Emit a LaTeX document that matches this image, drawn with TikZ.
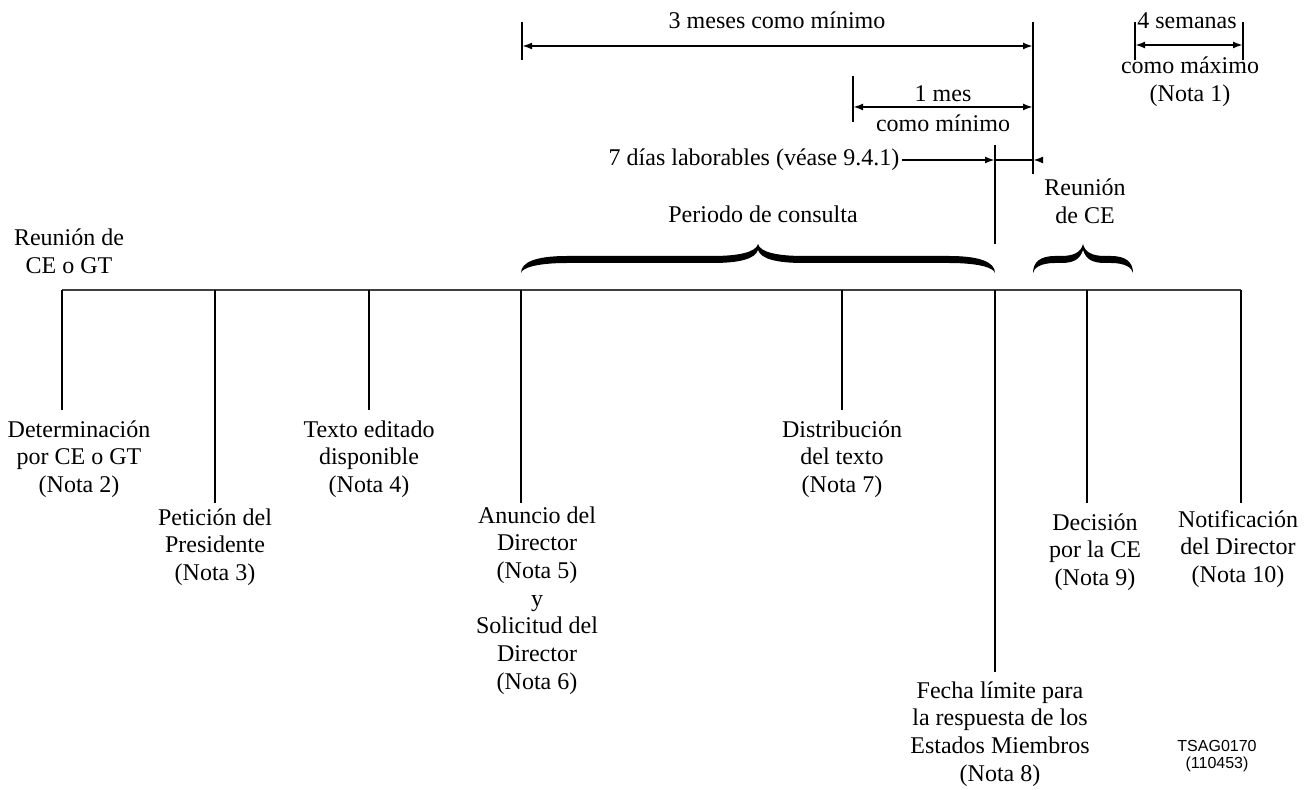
\documentclass[tikz,border=0pt]{standalone}
\usepackage{fontspec}
\setmainfont{Liberation Serif}
\newfontfamily\tsagfont{Liberation Sans}
\usetikzlibrary{arrows.meta}
\tikzset{every node/.style={align=center, inner sep=0pt, font=\fontsize{12}{13.85}\selectfont}}
\tikzset{axis/.style={line width=0.8pt, black!75}}
\tikzset{tick/.style={line width=1.2pt, black}}
\tikzset{thintick/.style={line width=0.6pt, black}}
\tikzset{dim/.style={line width=1pt, {Latex[length=5pt,width=3.5pt]}-{Latex[length=5pt,width=3.5pt]}}}
\tikzset{dimr/.style={line width=1pt, -{Latex[length=5pt,width=3.5pt]}}}
\tikzset{limit/.style={line width=1.2pt, black}}
\newcommand{\cbrace}[3]{\fill (#1,273) .. controls (#1,262) and ({#1+#3/3},256) .. ({#1+#3},256)
 -- ({(#1+#2)/2-#3},256) .. controls ({(#1+#2)/2-#3/2.5},256) and ({(#1+#2)/2-2},252) .. ({(#1+#2)/2},244)
 .. controls ({(#1+#2)/2+2},252) and ({(#1+#2)/2+#3/2.5},256) .. ({(#1+#2)/2+#3},256)
 -- ({#2-#3},256) .. controls ({#2-#3/3},256) and (#2,262) .. (#2,273)
 .. controls ({#2-1},268) and ({#2-#3/3},263) .. ({#2-#3},263)
 -- ({(#1+#2)/2+#3},263) .. controls ({(#1+#2)/2+#3/2.5},263) and ({(#1+#2)/2+3},259) .. ({(#1+#2)/2},250)
 .. controls ({(#1+#2)/2-3},259) and ({(#1+#2)/2-#3/2.5},263) .. ({(#1+#2)/2-#3},263)
 -- ({#1+#3},263) .. controls ({#1+#3/3},263) and ({#1+1},268) .. (#1,273) -- cycle}

\begin{document}
\begin{tikzpicture}[x=0.5pt, y=-0.5pt]
		\useasboundingbox (0,0) rectangle (1311,790);

		% Coordinates
		%% Timeline
		\coordinate (Tdet) at (62,290);
		\coordinate (Tpet) at (215,290);
		\coordinate (Ttex) at (369,290);
		\coordinate (Tanu) at (521,290);
		\coordinate (Tdis) at (842,290);
		\coordinate (Tfec) at (995,290);
		\coordinate (Tdec) at (1087,290);
		\coordinate (Tnot) at (1241,290);
		%% Tick ends
		\coordinate (Bdet) at (62,410);
		\coordinate (Bpet) at (215,503);
		\coordinate (Btex) at (369,410);
		\coordinate (Banu) at (521,503);
		\coordinate (Bdis) at (842,410);
		\coordinate (Bfec) at (995,672);
		\coordinate (Bdec) at (1087,503);
		\coordinate (Bnot) at (1241,503);
		%% Limits above
		\coordinate (L3a) at (522,22);
		\coordinate (L3b) at (522,60);
		\coordinate (Rtop) at (1033,22);
		\coordinate (Rbot) at (1033,174);
		\coordinate (L1a) at (853,76);
		\coordinate (L1b) at (853,122);
		\coordinate (Ftop) at (995,145);
		\coordinate (Fbot) at (995,244);
		\coordinate (Sa) at (1135,22);
		\coordinate (Sb) at (1135,60);
		\coordinate (Sc) at (1243,22);
		\coordinate (Sd) at (1243,60);

		% Timeline
		\draw[axis] (Tdet) -- (Tnot);
		%% Ticks
		\draw[thintick] (Tdet) -- (Bdet);
		\draw[tick] (Tpet) -- (Bpet);
		\draw[tick] (Ttex) -- (Btex);
		\draw[tick] (Tanu) -- (Banu);
		\draw[tick] (Tdis) -- (Bdis);
		\draw[tick] (Tfec) -- (Bfec);
		\draw[tick] (Tdec) -- (Bdec);
		\draw[thintick] (Tnot) -- (Bnot);

		% Limits
		\draw[limit] (L3a) -- (L3b);
		\draw[limit] (Rtop) -- (Rbot);
		\draw[limit] (L1a) -- (L1b);
		\draw[limit] (Ftop) -- (Fbot);
		\draw[limit] (Sa) -- (Sb);
		\draw[limit] (Sc) -- (Sd);

		% Periods
		\draw[dim] (522,46) -- (1033,46);
		\draw[dim] (853,107) -- (1033,107);
		\draw[dim] (1135,45) -- (1243,45);
		\node (m3) at (777,20) {3 meses como m\'inimo};
		\node (m1) at (943,94) {1 mes};
		\node (m1b) at (943,123) {como m\'inimo};
		\node (s4) at (1187,21) {4 semanas};
		\node (s4b) at (1190,82) {como m\'aximo\\(Nota 1)};
		%% Working days
		\node (dias) at (754,160) {7 d\'ias laborables (v\'ease 9.4.1)};
		\coordinate (Dfec) at (995,160);
		\coordinate (Dreu) at (1033,160);
		\coordinate (Dend) at (1043,160);
		\draw[dimr] ([xshift=1pt]dias.east) -- (Dfec);
		\draw[line width=1pt] (Dfec) -- (Dreu);
		\draw[dimr] (Dend) -- (Dreu);

		% Braces
		\cbrace{521}{995}{46};
		\cbrace{1033}{1133}{22};
		\node (per) at (763,214) {Periodo de consulta};
		\node (reuce) at (1085,201) {Reuni\'on\\de CE};
		\node (reugt) at (69,251) {Reuni\'on de\\CE o GT};

		% Events
		\node[below] (det) at (79,420) {Determinaci\'on\\por CE o GT\\(Nota 2)};
		\node[below] (pet) at (215,508) {Petici\'on del\\Presidente\\(Nota 3)};
		\node[below] (tex) at (369,420) {Texto editado\\disponible\\(Nota 4)};
		\node[below] (anu) at (537,506) {Anuncio del\\Director\\(Nota 5)\\y\\Solicitud del\\Director\\(Nota 6)};
		\node[below] (dis) at (842,420) {Distribuci\'on\\del texto\\(Nota 7)};
		\node[below] (fec) at (1000,681) {Fecha l\'imite para\\la respuesta de los\\Estados Miembros\\(Nota 8)};
		\node[below] (dec) at (1095,513) {Decisi\'on\\por la CE\\(Nota 9)};
		\node[below] (not) at (1238,510) {Notificaci\'on\\del Director\\(Nota 10)};

		% Reference
		\node[font=\tsagfont\fontsize{8}{8.6}\selectfont] (ref) at (1217,756) {TSAG0170\\(110453)};
	\end{tikzpicture}
\end{document}
